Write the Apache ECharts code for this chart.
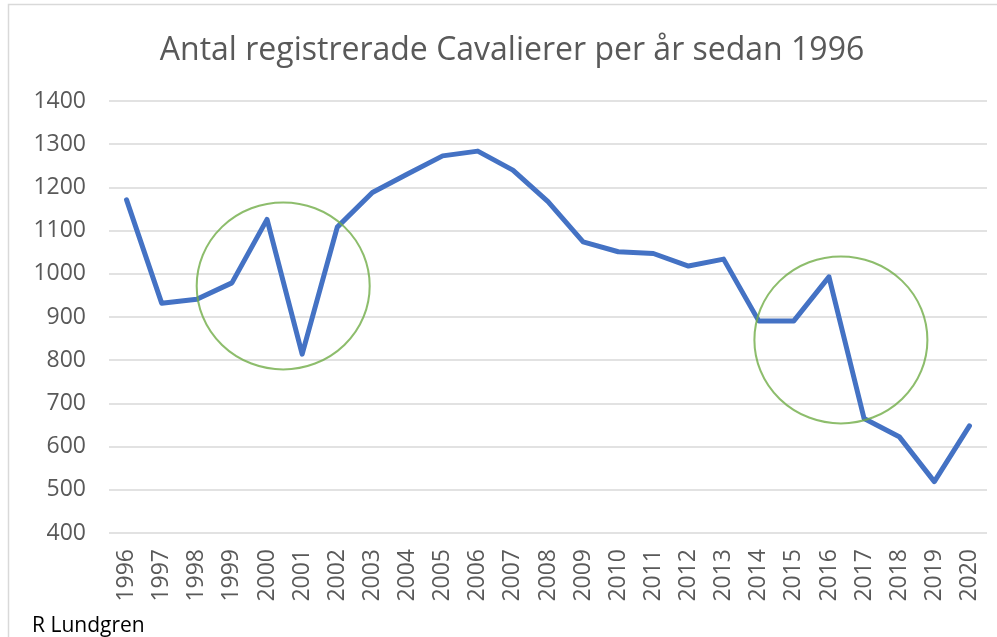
<!DOCTYPE html>
<html>
<head>
<meta charset="utf-8">
<script src="https://cdn.jsdelivr.net/npm/echarts@6/dist/echarts.min.js"></script>
<style>
html,body{margin:0;padding:0;background:#fff;}
#chart{width:997px;height:637px;}
</style>
</head>
<body>
<div id="chart"></div>
<script>
var titleText = 'Antal registrerade Cavalierer per år sedan 1996';
var authorText = 'R Lundgren';
var years = ['1996','1997','1998','1999','2000','2001','2002','2003','2004','2005','2006','2007','2008','2009','2010','2011','2012','2013','2014','2015','2016','2017','2018','2019','2020'];
var registrations = [1171, 932, 941, 979, 1126, 814, 1108, 1188, 1231, 1273, 1284, 1240, 1167, 1074, 1051, 1047, 1018, 1034, 891, 891, 993, 665, 623, 519, 648];
var yTicks = [400, 1400, 100]; // min, max, interval
// highlight circles: [category position (index), value]
var highlightCircles = [[4.46, 972], [20.34, 847]];

var chart = echarts.init(document.getElementById('chart'), null, {renderer: 'canvas'});
var font = '"Open Sans", sans-serif';
chart.setOption({
  animation: false,
  backgroundColor: '#ffffff',
  title: {
    text: titleText,
    left: 507,
    textAlign: 'center',
    top: 30,
    textStyle: {fontFamily: font, fontSize: 32, fontWeight: 'normal', color: '#595959'}
  },
  graphic: [
    {type: 'rect', shape: {x: 8.5, y: 4.5, width: 1200, height: 800}, style: {fill: null, stroke: '#d9d9d9', lineWidth: 1.5}, silent: true, z: -1},
    {type: 'text', left: 32, top: 616, style: {text: authorText, font: '21px "Open Sans", sans-serif', fill: '#000000'}}
  ],
  grid: {left: 109, right: 10, top: 101, bottom: 104, containLabel: false},
  xAxis: [
    {
      type: 'category',
      data: years,
      boundaryGap: true,
      axisLine: {show: false},
      axisTick: {show: false},
      axisLabel: {rotate: 90, margin: 16, fontFamily: font, fontSize: 23, color: '#595959'}
    },
    {
      type: 'value',
      min: -0.5,
      max: years.length - 0.5,
      show: false
    }
  ],
  yAxis: {
    type: 'value',
    min: yTicks[0],
    max: yTicks[1],
    interval: yTicks[2],
    axisLine: {show: false},
    axisTick: {show: false},
    axisLabel: {margin: 23, fontFamily: font, fontSize: 23, color: '#595959', formatter: function (v) { return String(v); }},
    splitLine: {lineStyle: {color: '#d9d9d9', width: 1.5}}
  },
  series: [
    {
      type: 'line',
      data: registrations,
      xAxisIndex: 0,
      symbol: 'none',
      lineStyle: {color: '#4472C4', width: 5, cap: 'round', join: 'round'},
      z: 3
    },
    {
      type: 'scatter',
      xAxisIndex: 1,
      data: highlightCircles,
      symbol: 'circle',
      symbolSize: [173, 167],
      itemStyle: {color: 'rgba(0,0,0,0)', borderColor: '#70AD47', borderWidth: 2},
      silent: true,
      z: 4
    }
  ]
});
</script>
</body>
</html>
